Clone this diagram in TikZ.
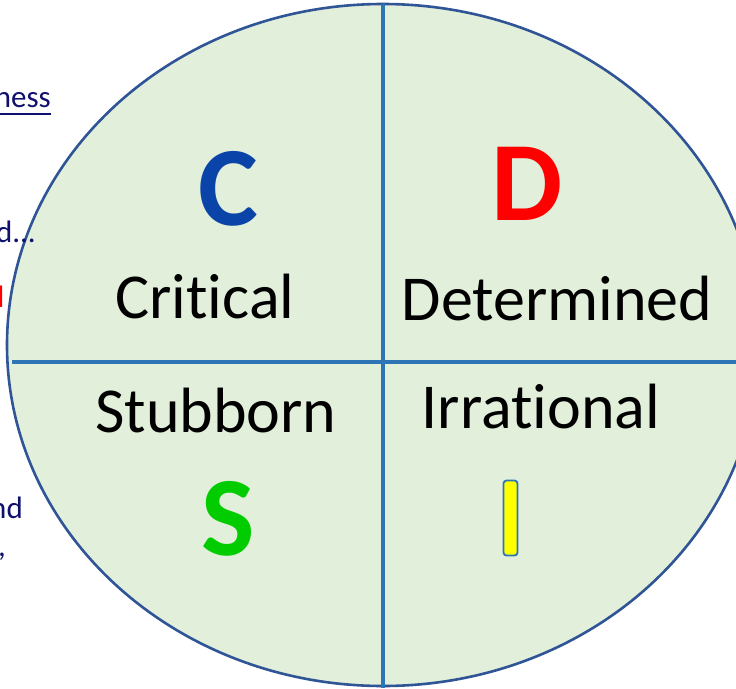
\documentclass[tikz,border=0pt]{standalone}
\usepackage{fontspec}
\usetikzlibrary{shapes.geometric}
\setmainfont[Ligatures={NoCommon}]{Carlito}
\definecolor{fillgreen}{HTML}{E2EFDA}
\definecolor{rimblue}{HTML}{2F5597}
\definecolor{lineblue}{HTML}{2E75B6}
\definecolor{cblue}{HTML}{0A44A8}
\definecolor{dred}{HTML}{FF0000}
\definecolor{sgreen}{HTML}{00CC00}
\definecolor{navy}{HTML}{10106E}
\definecolor{ybar}{HTML}{FFFF00}
\begin{document}
\begin{tikzpicture}[x=1pt,y=-1pt,
  big/.style={font=\fontsize{113}{113}\selectfont\bfseries, inner sep=0pt, anchor=base},
  word/.style={font=\fontsize{64}{64}\selectfont, text=black, inner sep=0pt, anchor=base},
  side/.style={font=\fontsize{31}{31}\selectfont, text=navy, inner sep=0pt, anchor=base east}]
\useasboundingbox (0,0) rectangle (736,688);
\clip (0,0) rectangle (736,688);
\node[draw=rimblue, line width=2.6pt, fill=fillgreen, ellipse, minimum width=752pt, minimum height=682pt, inner sep=0pt] (oval) at (383,345) {};
\coordinate (ltop) at (383,4);
\coordinate (lbot) at (383,688);
\coordinate (hleft) at (12,362);
\coordinate (hright) at (736,362);
\draw[lineblue, line width=4pt] (ltop) -- (lbot);
\draw[lineblue, line width=4pt] (hleft) -- (hright);
\node[big, text=cblue] (c) at (228,225) {C};
\node[big, text=dred] (d) at (527,220) {D};
\node[big, text=sgreen] (s) at (228,555) {S};
\node[word] (crit) at (205,318) {Critical};
\node[word] (det) at (557,320) {Determined};
\node[word] (stub) at (216,432) {Stubborn};
\node[word] (irr) at (541,428) {Irrational};
\node[draw=lineblue, line width=1.8pt, fill=ybar, rounded corners=3pt, minimum width=14pt, minimum height=75pt, inner sep=0pt] (ibar) at (510.5,518) {};
\node[side] (ness) at (51,107) {ness};
\coordinate (ul1) at (0,113.5);
\coordinate (ul2) at (51,113.5);
\draw[navy, line width=2pt] (ul1) -- (ul2);
\node[side] (dots) at (36,242) {d...};
\node[side, text=dred] (redd) at (4.5,307) {d};
\node[side] (nd) at (23,518) {nd};
\node[side] (comma) at (6,556) {,};
\end{tikzpicture}
\end{document}
